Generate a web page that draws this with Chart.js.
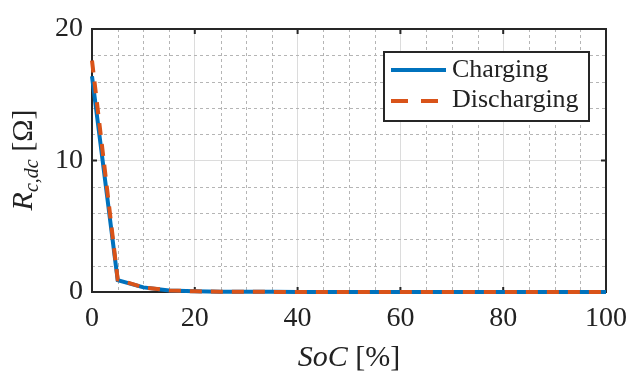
<!DOCTYPE html>
<html>
<head>
<meta charset="utf-8">
<script src="https://cdn.jsdelivr.net/npm/chart.js@4.4.1/dist/chart.umd.min.js"></script>
<style>
  html, body { margin: 0; padding: 0; background: #fff; }
  #wrap { width: 637px; height: 374px; }
</style>
</head>
<body>
<div id="wrap"><canvas id="grafico" width="637" height="374"></canvas></div>
<script>
// Datos
const soc = [0, 5, 10, 15, 20, 25, 30, 35, 40, 45, 50, 55, 60, 65, 70, 75, 80, 85, 90, 95, 100];
const charging = [16.4, 0.9, 0.35, 0.12, 0.05, 0.02, 0.01, 0.01, 0, 0, 0, 0, 0, 0, 0, 0, 0, 0, 0, 0, 0];
const discharging = [17.6, 0.95, 0.35, 0.12, 0.05, 0.02, 0.01, 0.01, 0, 0, 0, 0, 0, 0, 0, 0, 0, 0, 0, 0, 0];
const xTicks = [0, 20, 40, 60, 80, 100];
const yTicks = [0, 10, 20];
const seriesNames = ['Charging', 'Discharging'];

const azul = '#0072BD';
const naranja = '#D95319';
const ejes = '#262626';

function puntos(ys) {
    return soc.map((x, i) => ({ x: x, y: ys[i] }));
}

// grid menor punteado, cuadro y ticks hacia adentro (estilo MATLAB)
const estiloMatlab = {
    id: 'estiloMatlab',
    beforeDatasetsDraw(chart) {
        const ctx = chart.ctx;
        const a = chart.chartArea;
        const sx = chart.scales.x, sy = chart.scales.y;
        ctx.save();
        ctx.strokeStyle = '#b5b5b5';
        ctx.lineWidth = 1;
        ctx.setLineDash([3, 3]);
        for (let v = 5; v < 100; v += 5) {
            if (v % 20 === 0) continue;
            const px = Math.round(sx.getPixelForValue(v)) + 0.5;
            ctx.beginPath(); ctx.moveTo(px, a.top); ctx.lineTo(px, a.bottom); ctx.stroke();
        }
        for (let v = 2; v < 20; v += 2) {
            if (v % 10 === 0) continue;
            const py = Math.round(sy.getPixelForValue(v)) + 0.5;
            ctx.beginPath(); ctx.moveTo(a.left, py); ctx.lineTo(a.right, py); ctx.stroke();
        }
        // cuadro de ejes (debajo de las curvas)
        ctx.setLineDash([]);
        ctx.strokeStyle = ejes;
        ctx.lineWidth = 2;
        ctx.strokeRect(a.left, a.top, a.right - a.left, a.bottom - a.top);
        const tl = 5;
        xTicks.forEach(v => {
            const px = sx.getPixelForValue(v);
            ctx.beginPath();
            ctx.moveTo(px, a.bottom); ctx.lineTo(px, a.bottom - tl);
            ctx.moveTo(px, a.top); ctx.lineTo(px, a.top + tl);
            ctx.stroke();
        });
        yTicks.forEach(v => {
            const py = sy.getPixelForValue(v);
            ctx.beginPath();
            ctx.moveTo(a.left, py); ctx.lineTo(a.left + tl, py);
            ctx.moveTo(a.right, py); ctx.lineTo(a.right - tl, py);
            ctx.stroke();
        });
        ctx.restore();
    },
    afterDraw(chart) {
        const ctx = chart.ctx;
        const a = chart.chartArea;
        ctx.save();

        // leyenda
        const lx = 384, ly = 52, lw = 205, lh = 69;
        ctx.fillStyle = '#fff';
        ctx.fillRect(lx, ly, lw, lh);
        ctx.strokeStyle = ejes;
        ctx.lineWidth = 2;
        ctx.strokeRect(lx, ly, lw, lh);
        ctx.lineWidth = 4;
        ctx.strokeStyle = azul;
        ctx.beginPath(); ctx.moveTo(391, 70); ctx.lineTo(446, 70); ctx.stroke();
        ctx.strokeStyle = naranja;
        ctx.setLineDash([17, 13]);
        ctx.beginPath(); ctx.moveTo(391, 101); ctx.lineTo(446, 101); ctx.stroke();
        ctx.setLineDash([]);
        ctx.fillStyle = '#222';
        ctx.font = '26px "Liberation Serif"';
        ctx.textBaseline = 'middle';
        ctx.textAlign = 'left';
        ctx.fillText(seriesNames[0], 452, 70);
        ctx.fillText(seriesNames[1], 452, 100);

        // titulo eje x
        const cx = (a.left + a.right) / 2;
        ctx.textBaseline = 'alphabetic';
        const t1 = 'SoC ';
        const t2 = '[%]';
        ctx.font = 'italic 30px "Liberation Serif"';
        const w1 = ctx.measureText(t1).width;
        ctx.font = '30px "Liberation Serif"';
        const w2 = ctx.measureText(t2).width;
        let x0 = cx - (w1 + w2) / 2;
        ctx.font = 'italic 30px "Liberation Serif"';
        ctx.fillText(t1, x0, 366);
        ctx.font = '30px "Liberation Serif"';
        ctx.fillText(t2, x0 + w1, 366);

        // titulo eje y: R_{c,dc} [Ω]
        ctx.translate(32, 160);
        ctx.rotate(-Math.PI / 2);
        ctx.font = 'italic 30px "Liberation Serif"';
        const wR = ctx.measureText('R').width;
        ctx.font = 'italic 20px "Liberation Serif"';
        const wS = ctx.measureText('c,dc').width;
        ctx.font = '30px "Liberation Serif"';
        const wO = ctx.measureText(' [Ω]').width;
        let y0 = -(wR + wS + wO) / 2;
        ctx.font = 'italic 30px "Liberation Serif"';
        ctx.fillText('R', y0, 0);
        ctx.font = 'italic 20px "Liberation Serif"';
        ctx.fillText('c,dc', y0 + wR, 6);
        ctx.font = '30px "Liberation Serif"';
        ctx.fillText(' [Ω]', y0 + wR + wS, 0);
        ctx.restore();
    }
};

const ctx = document.getElementById('grafico').getContext('2d');

const grafico = new Chart(ctx, {
    type: 'line',
    data: {
        datasets: [{
            label: seriesNames[0],
            data: puntos(charging),
            borderColor: azul,
            borderWidth: 4,
            pointRadius: 0,
            fill: false,
            tension: 0,
            clip: 4,
            order: 1
        }, {
            label: seriesNames[1],
            data: puntos(discharging),
            borderColor: naranja,
            borderWidth: 4,
            borderDash: [12, 9],
            pointRadius: 0,
            fill: false,
            tension: 0,
            clip: 4,
            order: 0
        }]
    },
    options: {
        responsive: false,
        animation: false,
        layout: { padding: { top: 29, right: 25, left: 0, bottom: 0 } },
        plugins: {
            legend: { display: false },
            tooltip: { enabled: false }
        },
        scales: {
            x: {
                type: 'linear',
                min: 0,
                max: 100,
                afterBuildTicks: s => { s.ticks = xTicks.map(v => ({ value: v })); },
                afterFit: s => { s.height = 82; },
                grid: { color: '#dcdcdc', lineWidth: 1, drawTicks: false },
                border: { display: false },
                ticks: {
                    padding: 10,
                    color: '#222',
                    font: { family: 'Liberation Serif', size: 28 },
                    maxRotation: 0
                }
            },
            y: {
                min: 0,
                max: 20,
                afterBuildTicks: s => { s.ticks = yTicks.map(v => ({ value: v })); },
                afterFit: s => { s.width = 92; },
                grid: { color: '#dcdcdc', lineWidth: 1, drawTicks: false },
                border: { display: false },
                ticks: {
                    padding: 9,
                    color: '#222',
                    font: { family: 'Liberation Serif', size: 28 }
                }
            }
        }
    },
    plugins: [estiloMatlab]
});
</script>
</body>
</html>
